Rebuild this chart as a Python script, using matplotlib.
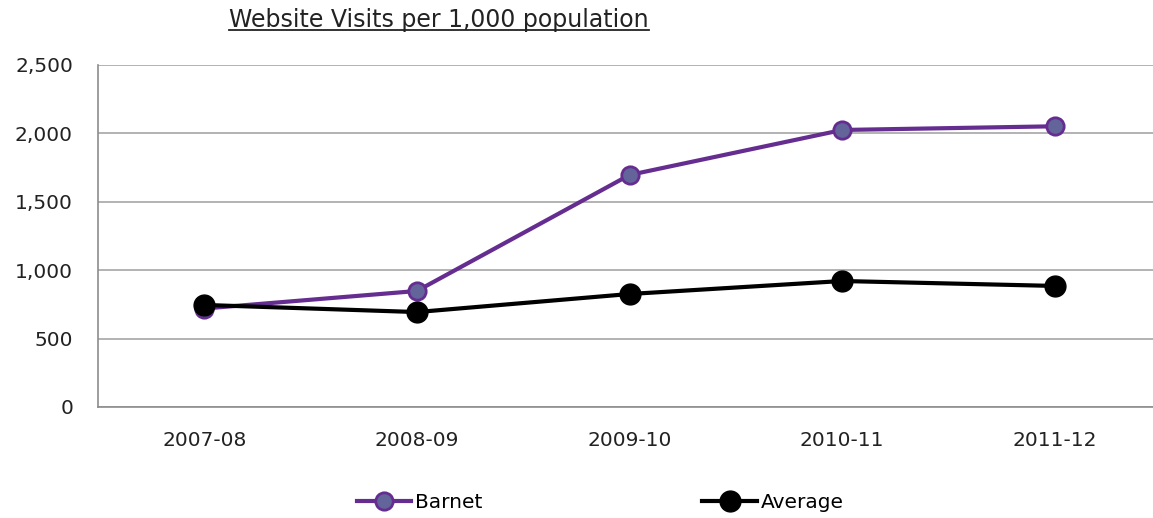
import matplotlib
matplotlib.use('Agg')
import matplotlib.pyplot as plt
from matplotlib.lines import Line2D
from matplotlib.ticker import FuncFormatter

# data
years = ['2007-08', '2008-09', '2009-10', '2010-11', '2011-12']
barnet = [720, 848, 1696, 2025, 2052]
average = [746, 694, 826, 921, 885]

plt.rcParams['font.family'] = ['DejaVu Sans']

fig = plt.figure(figsize=(11.53, 5.18), dpi=100)
ax = fig.add_axes([98 / 1153, 1 - 407 / 518, (1161 - 98) / 1153, (407 - 65) / 518])

x = range(len(years))
ax.plot(x, barnet, color='#662D91', lw=3, marker='o', ms=12.5,
        mfc='#62649A', mec='#662D91', mew=2, label='Barnet', zorder=3)
ax.plot(x, average, color='black', lw=3, marker='o', ms=15,
        mfc='black', mec='black', label='Average', zorder=4)

ax.set_xlim(-0.5, 4.5)
ax.set_ylim(0, 2500)
ax.set_yticks(range(0, 2501, 500))
ax.yaxis.set_major_formatter(FuncFormatter(lambda v, p: f'{int(v):,}'))
ax.set_xticks(list(x))
ax.set_xticklabels(years)
ax.tick_params(length=0, labelsize=14.5, colors='#222222')
ax.tick_params(axis='y', pad=18)
ax.tick_params(axis='x', pad=17)
ax.grid(axis='y', color='#A6A6A6', lw=1.2)
ax.set_axisbelow(True)
for s in ['top', 'right']:
    ax.spines[s].set_visible(False)
for s in ['left', 'bottom']:
    ax.spines[s].set_color('#8C8C8C')
    ax.spines[s].set_linewidth(1.2)

# title with underline
title = fig.text(439 / 1153, 1 - 20 / 518, 'Website Visits per 1,000 population',
                 ha='center', va='center', fontsize=17, color='#222222')
fig.canvas.draw()
bb = title.get_window_extent().transformed(fig.transFigure.inverted())
fig.add_artist(Line2D([bb.x0, bb.x1], [bb.y0 + 0.004, bb.y0 + 0.004],
                      color='#222222', lw=1.3, transform=fig.transFigure))

fig.legend(loc='center left', bbox_to_anchor=(349 / 1153, 1 - 503 / 518), ncol=2,
           frameon=False, fontsize=14.5, handlelength=2.7, handletextpad=0.2,
           columnspacing=10.9, borderaxespad=0)

fig.savefig('out.png', dpi=100)
